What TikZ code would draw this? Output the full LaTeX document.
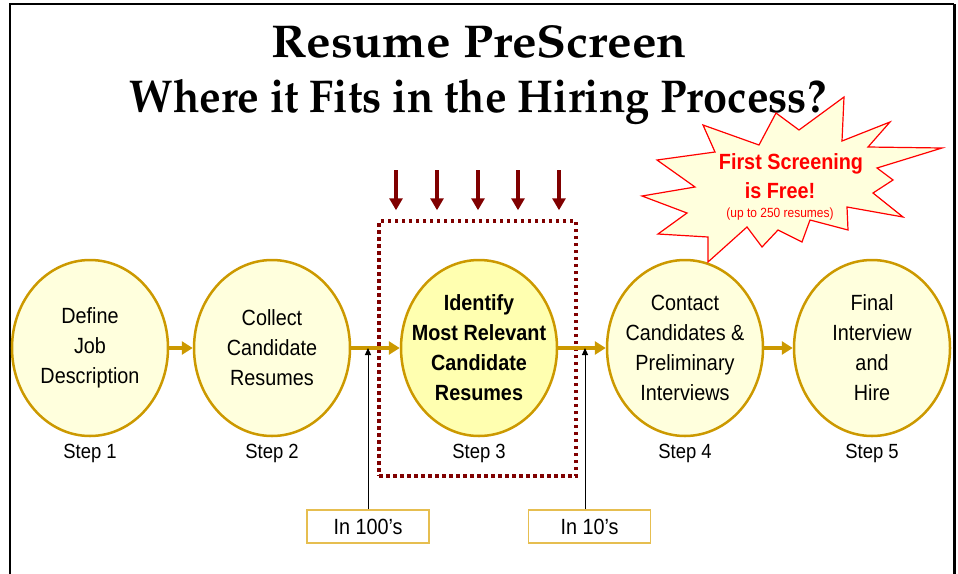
\documentclass[tikz,border=0pt]{standalone}
\usepackage[T1,TU]{fontenc}
\usepackage{fontspec}
\setmainfont{Liberation Sans}[FakeStretch=0.9]
\usepackage{tikz}
\usetikzlibrary{shapes.geometric,arrows.meta,positioning}

\definecolor{goldline}{RGB}{204,153,0}
\definecolor{paleyellow}{RGB}{255,255,221}
\definecolor{brightyellow}{RGB}{255,255,176}
\definecolor{darkred}{RGB}{128,0,0}
\definecolor{boxgold}{RGB}{230,190,80}

\newcommand{\titlefont}{\fontencoding{T1}\fontfamily{ppl}\fontseries{b}\fontsize{46}{50}\selectfont}

\begin{document}
\begin{tikzpicture}[x=1pt,y=-1pt,
  stepnode/.style={ellipse,draw=goldline,line width=2.5pt,fill=paleyellow,minimum width=156pt,minimum height=176pt,inner xsep=-20pt,inner ysep=0pt,align=center,font=\fontsize{22}{30}\selectfont},
  steplbl/.style={inner sep=0pt,font=\fontsize{20.5}{24}\selectfont},
  flowarr/.style={draw=goldline,line width=4pt,-{Triangle[length=11pt,width=13pt]}},
  downarr/.style={draw=darkred,line width=4pt,-{Triangle[length=12pt,width=13pt]}},
  uparr/.style={draw=black,line width=1pt,-{Triangle[length=7pt,width=6pt]}},
  countbox/.style={draw=boxgold,line width=1.5pt,minimum width=122pt,minimum height=33pt,inner sep=0pt,font=\fontsize{22}{26}\selectfont},
  bursttxt/.style={anchor=base,inner sep=0pt,text=red,font=\bfseries\fontsize{22}{29}\selectfont},
  titletxt/.style={anchor=base,inner sep=0pt,font=\titlefont}]
\useasboundingbox (0,0) rectangle (958,573);
\draw[line width=2pt] (10,580) -- (10,4) -- (954,4);
\draw[line width=3pt] (954,4) -- (954,580);

\node[titletxt] (title) at (479,57) {\scalebox{1.067}[1]{Resume PreScreen}};
\node[titletxt] (subtitle) at (478,112) {\scalebox{0.94}[1]{Where it Fits in the Hiring Process?}};

\node[draw=darkred,line width=3.5pt,dash pattern=on 3.5pt off 3.5pt,minimum width=197pt,minimum height=255pt] (zone) at (477.5,348.5) {};

\node[stepnode] (s1) at (90,348) {Define\\Job\\Description};
\node[stepnode] (s2) at (272,348) {Collect\\Candidate\\Resumes};
\node[stepnode,fill=brightyellow,font=\bfseries\fontsize{22}{30}\selectfont] (s3) at (479,348) {Identify\\Most Relevant\\Candidate\\Resumes};
\node[stepnode] (s4) at (685,348) {Contact\\Candidates \&\\Preliminary\\Interviews};
\node[stepnode] (s5) at (872,348) {Final\\Interview\\and\\Hire};

\node[steplbl,below=7pt of s1] (l1) {Step 1};
\node[steplbl,below=7pt of s2] (l2) {Step 2};
\node[steplbl,below=7pt of s3] (l3) {Step 3};
\node[steplbl,below=7pt of s4] (l4) {Step 4};
\node[steplbl,below=7pt of s5] (l5) {Step 5};

\draw[flowarr] (s1) -- (s2);
\draw[flowarr] (s2) -- (s3);
\draw[flowarr] (s3) -- (s4);
\draw[flowarr] (s4) -- (s5);

\foreach \x [count=\i] in {396,437,478,518,559}{
  \coordinate (dn\i) at (\x,170);
  \draw[downarr,shorten >=9pt] (dn\i) -- (dn\i |- zone.north);
}

\node[countbox] (b1) at (368,526.5) {In 100’s};
\node[countbox] (b2) at (589.5,526.5) {In 10’s};
\draw[uparr] (b1.north) -- (b1.north |- s2.east);
\draw[uparr] ([xshift=-4.5pt]b2.north) -- ([xshift=-4.5pt]b2.north |- s3.east);

\draw[draw=red,fill=paleyellow,line width=1.2pt] (844,97) -- (842,141) -- (890,122) -- (868,147) -- (942,148) -- (877,168) -- (893,180) -- (873,193) -- (903,217) -- (847,207) -- (848,230) -- (810,220) -- (802,242) -- (778,230) -- (762,247) -- (747,227) -- (708,262) -- (708,237) -- (658,234) -- (687,213) -- (642,196) -- (695,187) -- (657,160) -- (715,152) -- (703,125) -- (759,145) -- (776,113) -- (799,130) -- cycle;
\node[bursttxt] (free1) at (791,169) {First Screening};
\node[bursttxt] (free2) at (780,198) {is Free!};
\node[bursttxt,font=\fontsize{13.3}{15}\selectfont] (freenote) at (780,217) {(up to 250 resumes)};
\end{tikzpicture}
\end{document}
